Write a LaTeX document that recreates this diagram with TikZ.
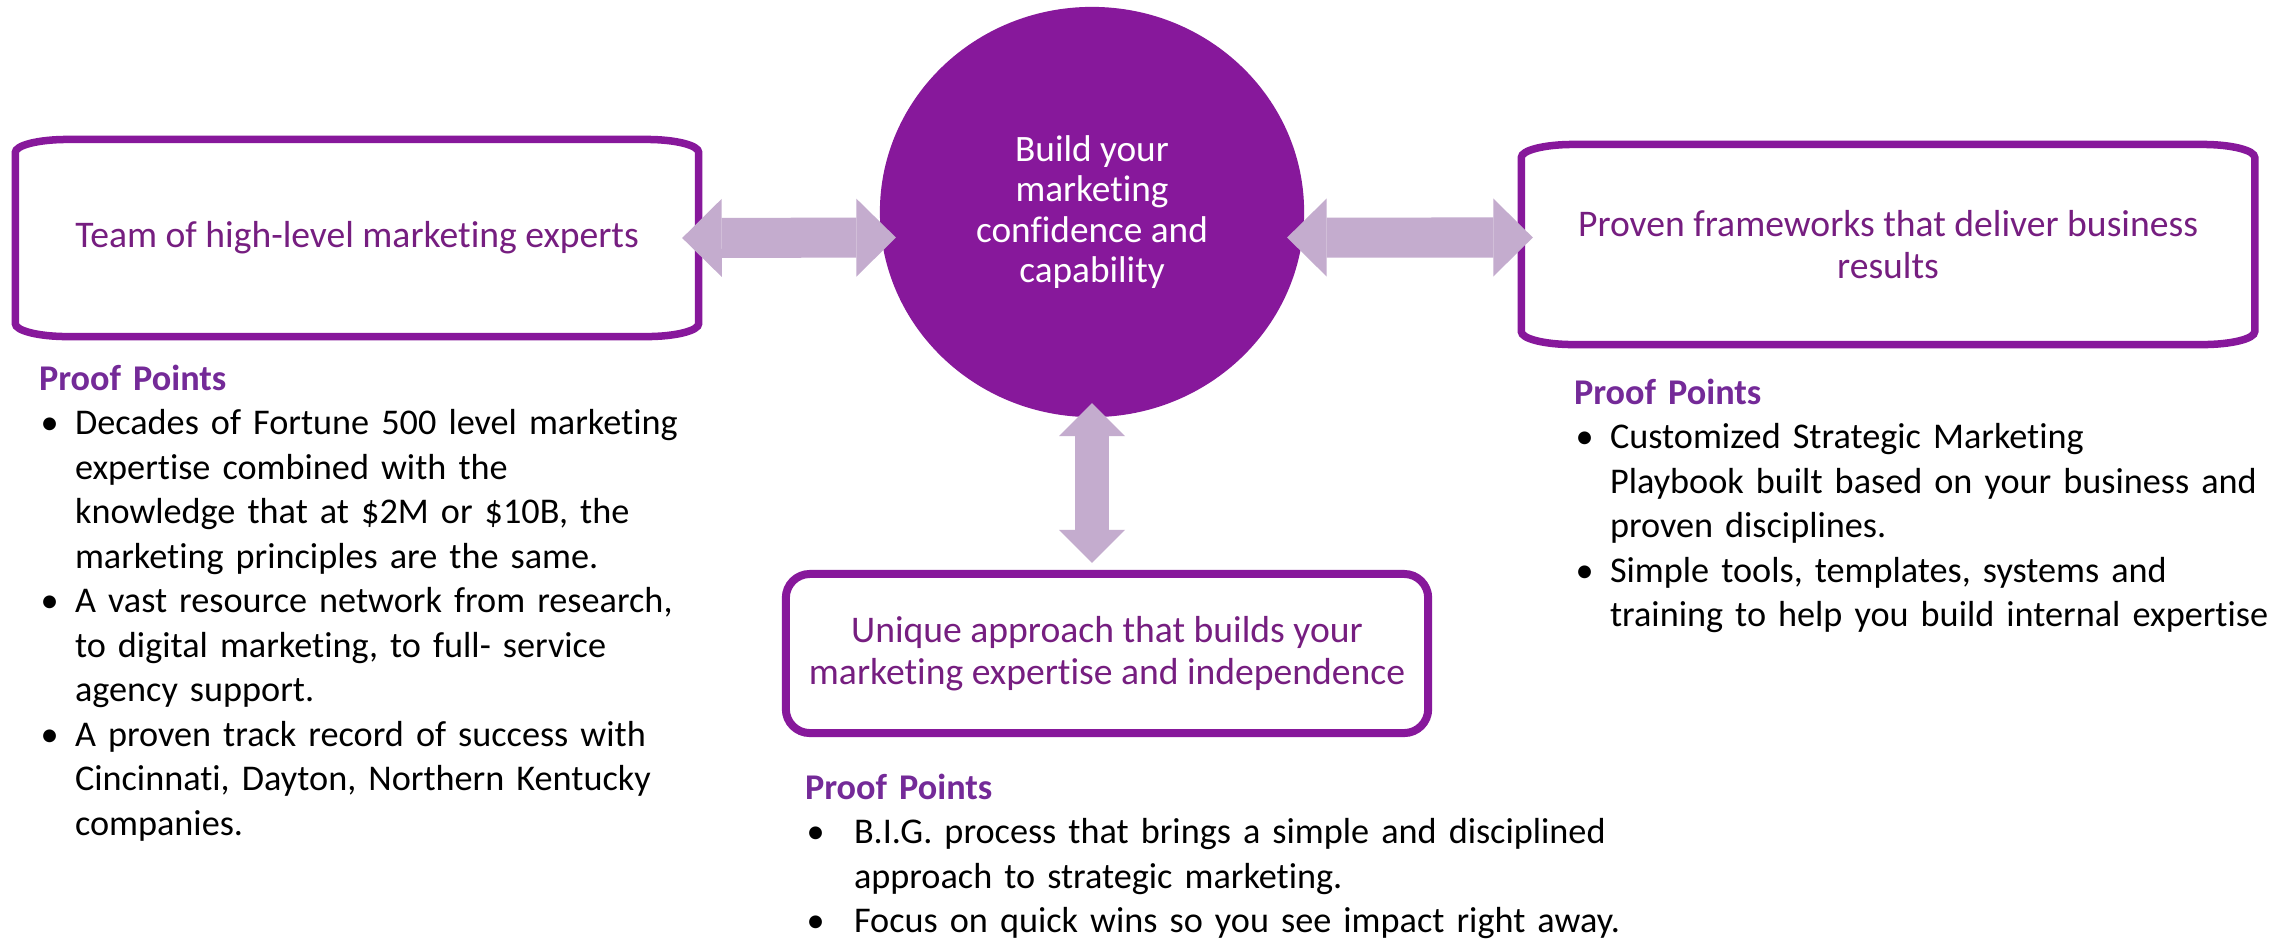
\documentclass[tikz,border=0pt]{standalone}
\usepackage{fontspec}
\setmainfont{Carlito}[Ligatures=NoCommon]
\usetikzlibrary{arrows.meta,calc,shapes.geometric}

\definecolor{plum}{RGB}{135,24,155}
\definecolor{plumtext}{RGB}{118,30,128}
\definecolor{plumhead}{RGB}{116,42,152}
\definecolor{lilac}{RGB}{196,172,206}

% one bulleted item with a hanging indent; lines are broken by hand
\newcommand{\pointitem}[2][0.36cm]{\par\hangindent=#1\hangafter=1\noindent\makebox[#1][l]{\hspace{0.015cm}\textbullet}#2\par}
\newcommand{\pointhead}{\noindent{\bfseries\color{plumhead}Proof Points}\par}

% frame with flattened elliptical corners drawn round a node
\newcommand{\ovalframe}[3]{%
  \draw[frame] ($(#1.north west)+(#2,0)$) -- ($(#1.north east)+(-#2,0)$)
    arc[start angle=-90,end angle=0,x radius=#2,y radius=#3]
    -- ($(#1.south east)+(0,-#3)$)
    arc[start angle=0,end angle=90,x radius=#2,y radius=#3]
    -- ($(#1.south west)+(#2,0)$)
    arc[start angle=90,end angle=180,x radius=#2,y radius=#3]
    -- ($(#1.north west)+(0,#3)$)
    arc[start angle=180,end angle=270,x radius=#2,y radius=#3]
    -- cycle;}

\begin{document}
\begin{tikzpicture}[x=0.01cm,y=-0.01cm,
  frame/.style={draw=plum,line width=0.075cm},
  boxlabel/.style={text=plumtext,align=center,inner sep=0,outer sep=0,
    font=\fontsize{10.7}{12.1}\selectfont},
  hub/.style={ellipse,fill=plum,minimum width=4.24cm,minimum height=4.10cm,
    inner sep=0,outer sep=0,text=white,align=center,
    font=\fontsize{10.6}{11.5}\selectfont},
  points/.style={anchor=base west,inner sep=0,outer sep=0,text width=10cm,
    align=left,font=\fontsize{10.3}{12.66}\selectfont},
  link/.style={draw=lilac,line width=0.40cm,
    {Triangle[length=0.395cm,width=0.78cm,line width=0pt]}-{Triangle[length=0.395cm,width=0.78cm,line width=0pt]}},
  vlink/.style={draw=lilac,line width=0.34cm,
    {Triangle[length=0.33cm,width=0.66cm,line width=0pt]}-{Triangle[length=0.33cm,width=0.66cm,line width=0pt]}}
]
\fill[white] (0,0) rectangle (2292,939);
\useasboundingbox (0,0) rectangle (2292,939);

% central goal
\node[hub] (core) at (1092,212) {Build your\\marketing\\confidence and\\capability};

% the three pillars
\node[boxlabel,minimum width=6.83cm,minimum height=1.97cm] (team) at (357,238)
  {Team of high-level marketing experts};
\ovalframe{team}{52}{13}
\node[boxlabel,minimum width=7.33cm,minimum height=2.00cm] (frameworks) at (1888,244.5)
  {Proven frameworks that deliver business\\results};
\ovalframe{frameworks}{52}{13}
\node[boxlabel,draw=plum,line width=0.08cm,rounded corners=0.24cm,
  minimum width=6.42cm,minimum height=1.59cm] (approach) at (1107,653.5)
  {Unique approach that builds your\\marketing expertise and independence};

% two-way links
\draw[link] ([xshift=-0.165cm]team.east) -- ([xshift=0.16cm,yshift=-0.255cm]core.west);
\draw[link] ([xshift=-0.17cm,yshift=-0.255cm]core.east) -- ([xshift=0.115cm,yshift=0.07cm]frameworks.west);
\draw[vlink] ([yshift=0.14cm]core.south) -- ([yshift=0.11cm]core.south |- approach.north);

% proof points
\node[points] (teampoints) at (39,390) {\pointhead
  \pointitem{Decades of Fortune 500 level marketing\newline expertise combined with the\newline knowledge that at \$2M or \$10B, the\newline marketing principles are the same.}
  \pointitem{A vast resource network from research,\newline to digital marketing, to full- service\newline agency support.}
  \pointitem{A proven track record of success with\newline Cincinnati, Dayton, Northern Kentucky\newline companies.}};

\node[points] (frameworkpoints) at (1574,404) {\pointhead
  \pointitem{Customized Strategic Marketing\newline Playbook built based on your business and\newline proven disciplines.}
  \pointitem{Simple tools, templates, systems and\newline training to help you build internal expertise}};

\node[points] (approachpoints) at (805,799) {\pointhead
  \pointitem[0.49cm]{B.I.G. process that brings a simple and disciplined\newline approach to strategic marketing.}
  \pointitem[0.49cm]{Focus on quick wins so you see impact right away.}};
\end{tikzpicture}
\end{document}
